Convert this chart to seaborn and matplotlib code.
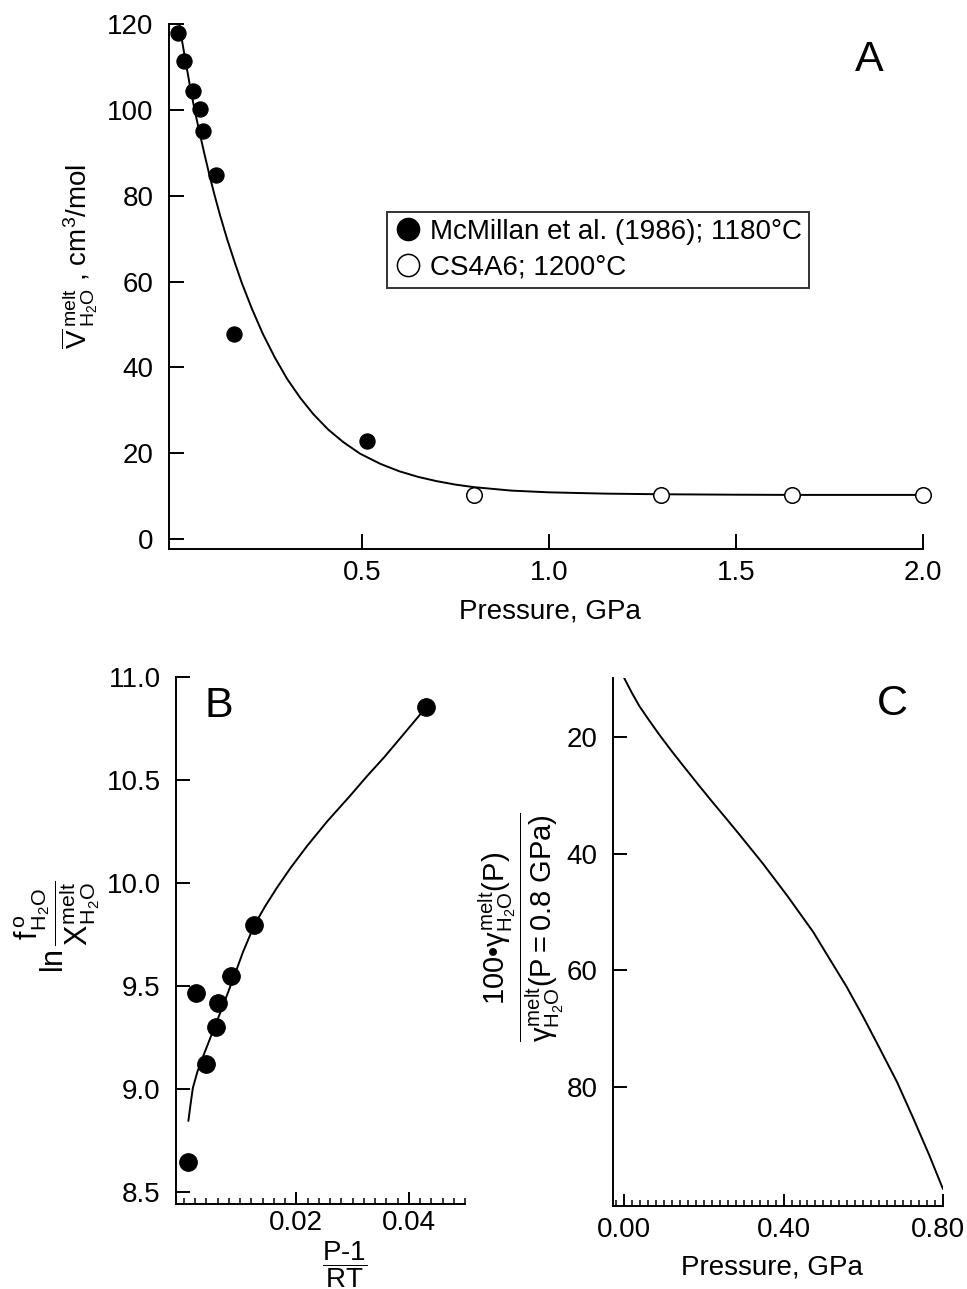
import numpy as np
import pandas as pd
import matplotlib
matplotlib.use("Agg")
import matplotlib.pyplot as plt
import matplotlib.transforms as mtransforms
import seaborn as sns
from matplotlib.ticker import MultipleLocator, FixedLocator
from matplotlib.lines import Line2D

# ---------------- data ----------------
# Panel A: partial molar volume of H2O in melt vs pressure
mcmillan_p = [0.008, 0.024, 0.048, 0.067, 0.075, 0.110, 0.158, 0.513]
mcmillan_v = [117.9, 111.4, 104.4, 100.2, 95.1, 84.9, 47.9, 22.8]
cs4a6_p = [0.80, 1.30, 1.65, 2.00]
cs4a6_v = [10.3, 10.3, 10.3, 10.3]
fitA_p = [0.012, 0.02, 0.03, 0.042, 0.053, 0.065, 0.078, 0.091, 0.105, 0.12,
          0.139, 0.16, 0.179, 0.206, 0.235, 0.267, 0.30, 0.335, 0.37, 0.41,
          0.45, 0.495, 0.55, 0.60, 0.65, 0.70, 0.75, 0.80, 0.90, 1.00, 1.15,
          1.30, 1.50, 1.65, 1.80, 2.00]
fitA_v = [120.0, 115.5, 110.5, 104.6, 99.8, 95.0, 90.0, 85.2, 80.4, 75.6,
          70.0, 64.4, 59.6, 53.6, 47.8, 42.3, 37.3, 32.9, 29.1, 25.5,
          22.6, 19.9, 17.5, 15.8, 14.5, 13.5, 12.7, 12.1, 11.3, 10.9, 10.6,
          10.45, 10.35, 10.3, 10.3, 10.3]

# Panel B: ln(f/X) vs (P-1)/RT
b_x = [0.0430, 0.0125, 0.0084, 0.0061, 0.0057, 0.0039, 0.0021, 0.0008]
b_y = [10.856, 9.798, 9.552, 9.418, 9.301, 9.123, 9.467, 8.646]
fitB_x = [0.0008, 0.0012, 0.0016, 0.0024, 0.0032, 0.0040, 0.0052, 0.0064,
          0.0076, 0.0088, 0.0105, 0.0125, 0.0145, 0.0166, 0.019, 0.0219,
          0.0255, 0.0296, 0.0326, 0.0356, 0.039, 0.0430]
fitB_y = [8.847, 8.93, 9.007, 9.085, 9.145, 9.20, 9.285, 9.367,
          9.452, 9.538, 9.665, 9.795, 9.89, 9.98, 10.075, 10.18,
          10.30, 10.425, 10.52, 10.61, 10.72, 10.85]

# Panel C: normalised activity coefficient vs pressure
fitC_p = [0.0, 0.019, 0.038, 0.06, 0.088, 0.12, 0.15, 0.185, 0.222, 0.255,
          0.29, 0.348, 0.41, 0.474, 0.515, 0.558, 0.60, 0.642, 0.685, 0.725,
          0.765, 0.80]
fitC_y = [9.9, 12.4, 14.7, 16.9, 19.6, 22.5, 25.1, 28.1, 31.2, 33.9,
          36.8, 41.7, 47.3, 53.4, 58.0, 62.8, 68.0, 73.5, 79.2, 85.3,
          91.6, 97.5]

A_xticks = [0.5, 1.0, 1.5, 2.0]
A_yticks = [0, 20, 40, 60, 80, 100, 120]
B_yticks = [8.5, 9.0, 9.5, 10.0, 10.5, 11.0]
B_xticks = [0.02, 0.04]
C_yticks = [20, 40, 60, 80]
C_xticks = [0.0, 0.4, 0.8]

legend_labels = ["McMillan et al. (1986); 1180°C", "CS4A6; 1200°C"]

# ---------------- style ----------------
sns.set_theme(style="white")
plt.rcParams["font.family"] = ["Liberation Sans", "DejaVu Sans"]
plt.rcParams["mathtext.fontset"] = "custom"
plt.rcParams["mathtext.rm"] = "Liberation Sans"
plt.rcParams["mathtext.it"] = "Liberation Sans"
plt.rcParams["mathtext.bf"] = "Liberation Sans:bold"
plt.rcParams["axes.linewidth"] = 1.4
plt.rcParams["text.color"] = "black"
plt.rcParams["axes.labelcolor"] = "black"
plt.rcParams["xtick.color"] = "black"
plt.rcParams["ytick.color"] = "black"

W, H = 967, 1289
fig = plt.figure(figsize=(W / 100, H / 100), dpi=100)
fig.patch.set_facecolor("white")


def rect(l, t, r, b):
    return [l / W, 1 - b / H, (r - l) / W, (b - t) / H]


def fx(x):
    return x / W


def fy(y):
    return 1 - y / H


TFS = 20
LFS = 21
LW = 1.4


def clean(ax):
    ax.set_xlabel("")
    ax.set_ylabel("")
    for s in ["top", "right"]:
        ax.spines[s].set_visible(False)
    for s in ["left", "bottom"]:
        ax.spines[s].set_color("black")
        ax.spines[s].set_linewidth(LW)


# ---------------- Panel A ----------------
axA = fig.add_axes(rect(169, 24, 923, 549))
dfA_fit = pd.DataFrame({"P": fitA_p, "V": fitA_v})
sns.lineplot(data=dfA_fit, x="P", y="V", ax=axA, color="black", lw=LW, sort=False)
dfA1 = pd.DataFrame({"P": mcmillan_p, "V": mcmillan_v})
dfA2 = pd.DataFrame({"P": cs4a6_p, "V": cs4a6_v})
sns.scatterplot(data=dfA1, x="P", y="V", ax=axA, color="black", s=120,
                edgecolor="black", linewidth=0.8, zorder=3, clip_on=False)
sns.scatterplot(data=dfA2, x="P", y="V", ax=axA, color="white", s=125,
                edgecolor="black", linewidth=1.1, zorder=3, clip_on=False)
axA.set_xlim(-0.016, 2.0)
axA.set_ylim(-2.3, 120)
axA.set_xticks(A_xticks)
axA.set_xticklabels(["0.5", "1.0", "1.5", "2.0"])
axA.set_yticks(A_yticks)
axA.tick_params(axis="both", direction="in", length=11, width=LW,
                labelsize=TFS, left=True, bottom=True)
axA.tick_params(axis="y", pad=11)
axA.tick_params(axis="x", pad=8)
clean(axA)

handles = [
    Line2D([], [], marker="o", ls="", markersize=16, markerfacecolor="black",
           markeredgecolor="black"),
    Line2D([], [], marker="o", ls="", markersize=16, markerfacecolor="white",
           markeredgecolor="black", markeredgewidth=1.1),
]
leg = axA.legend(handles, legend_labels, loc="upper left",
                 bbox_to_anchor=((387 - 169) / 754, (549 - 212) / 525),
                 borderaxespad=0, frameon=True, fancybox=False,
                 edgecolor="black", fontsize=20, handletextpad=0.3,
                 handlelength=1.0, borderpad=0.25, labelspacing=0.35)
leg.get_frame().set_linewidth(1.4)

fig.text(fx(869), fy(60), "A", fontsize=31, ha="center", va="center")
fig.text(fx(550), fy(612), "Pressure, GPa", fontsize=TFS, ha="center",
         va="center")
fig.text(fx(80), fy(256),
         r"$\overline{\mathrm{V}}\,^{\mathrm{melt}}_{\mathrm{H_2O}}$ , cm$^3$/mol",
         fontsize=TFS, rotation=90, ha="center", va="center")

# ---------------- Panel B ----------------
axB = fig.add_axes(rect(176, 677, 465, 1204))
dfB_fit = pd.DataFrame({"x": fitB_x, "y": fitB_y})
sns.lineplot(data=dfB_fit, x="x", y="y", ax=axB, color="black", lw=LW, sort=False)
dfB = pd.DataFrame({"x": b_x, "y": b_y})
sns.scatterplot(data=dfB, x="x", y="y", ax=axB, color="black", s=160,
                edgecolor="black", linewidth=0.8, zorder=3, clip_on=False)
axB.set_xlim(-0.0014, 0.05)
axB.set_ylim(8.444, 11.0)
axB.set_yticks(B_yticks)
axB.set_yticklabels(["8.5", "9.0", "9.5", "10.0", "10.5", "11.0"])
axB.xaxis.set_major_locator(FixedLocator(B_xticks))
axB.set_xticklabels(["0.02", "0.04"])
axB.xaxis.set_minor_locator(MultipleLocator(0.002))
axB.tick_params(axis="y", direction="in", length=10, width=LW,
                labelsize=TFS, pad=11, left=True)
axB.tick_params(axis="x", which="major", direction="in", length=9, width=LW,
                labelsize=TFS, pad=4, bottom=True)
axB.tick_params(axis="x", which="minor", direction="in", length=4.5, width=1.1,
                bottom=True)
clean(axB)

fig.text(fx(219), fy(706), "B", fontsize=31, ha="center", va="center")
fig.text(fx(345), fy(1265), r"$\dfrac{\mathrm{P\text{-}1}}{\mathrm{RT}}$",
         fontsize=TFS, ha="center", va="center")
fig.text(fx(57), fy(927),
         r"$\ln\dfrac{\mathrm{f}^{\,\mathrm{o}}_{\mathrm{H_2O}}}{\mathrm{X}^{\mathrm{melt}}_{\mathrm{H_2O}}}$",
         fontsize=22, rotation=90, ha="center", va="center")

# ---------------- Panel C ----------------
axC = fig.add_axes(rect(613, 678, 943, 1206))
dfC = pd.DataFrame({"P": fitC_p, "y": fitC_y})
sns.lineplot(data=dfC, x="P", y="y", ax=axC, color="black", lw=LW, sort=False)
axC.set_xlim(-0.028, 0.80)
axC.set_ylim(100.4, 9.9)
axC.set_yticks(C_yticks)
axC.xaxis.set_major_locator(FixedLocator(C_xticks))
axC.set_xticklabels(["0.00", "0.40", "0.80"])
axC.xaxis.set_minor_locator(MultipleLocator(0.02))
axC.tick_params(axis="y", direction="in", length=10, width=LW,
                labelsize=TFS, pad=11, left=True)
axC.tick_params(axis="x", which="major", direction="in", length=9, width=LW,
                labelsize=TFS, pad=8, bottom=True)
axC.tick_params(axis="x", which="minor", direction="in", length=4.5, width=1.1,
                bottom=True)
clean(axC)
# nudge the last tick label so it stays inside the figure
last = axC.get_xticklabels()[-1]
last.set_transform(last.get_transform() +
                   mtransforms.ScaledTranslation(-5 / 100, 0, fig.dpi_scale_trans))

fig.text(fx(892), fy(704), "C", fontsize=31, ha="center", va="center")
fig.text(fx(772), fy(1268), "Pressure, GPa", fontsize=TFS, ha="center",
         va="center")
fig.text(fx(521), fy(927),
         r"$\dfrac{100\mathrm{•}\gamma^{\mathrm{melt}}_{\mathrm{H_2O}}(\mathrm{P})}{\gamma^{\mathrm{melt}}_{\mathrm{H_2O}}(\mathrm{P{=}0.8\ GPa})}$",
         fontsize=LFS, rotation=90, ha="center", va="center")

fig.savefig("out.png", dpi=100, facecolor="white")
